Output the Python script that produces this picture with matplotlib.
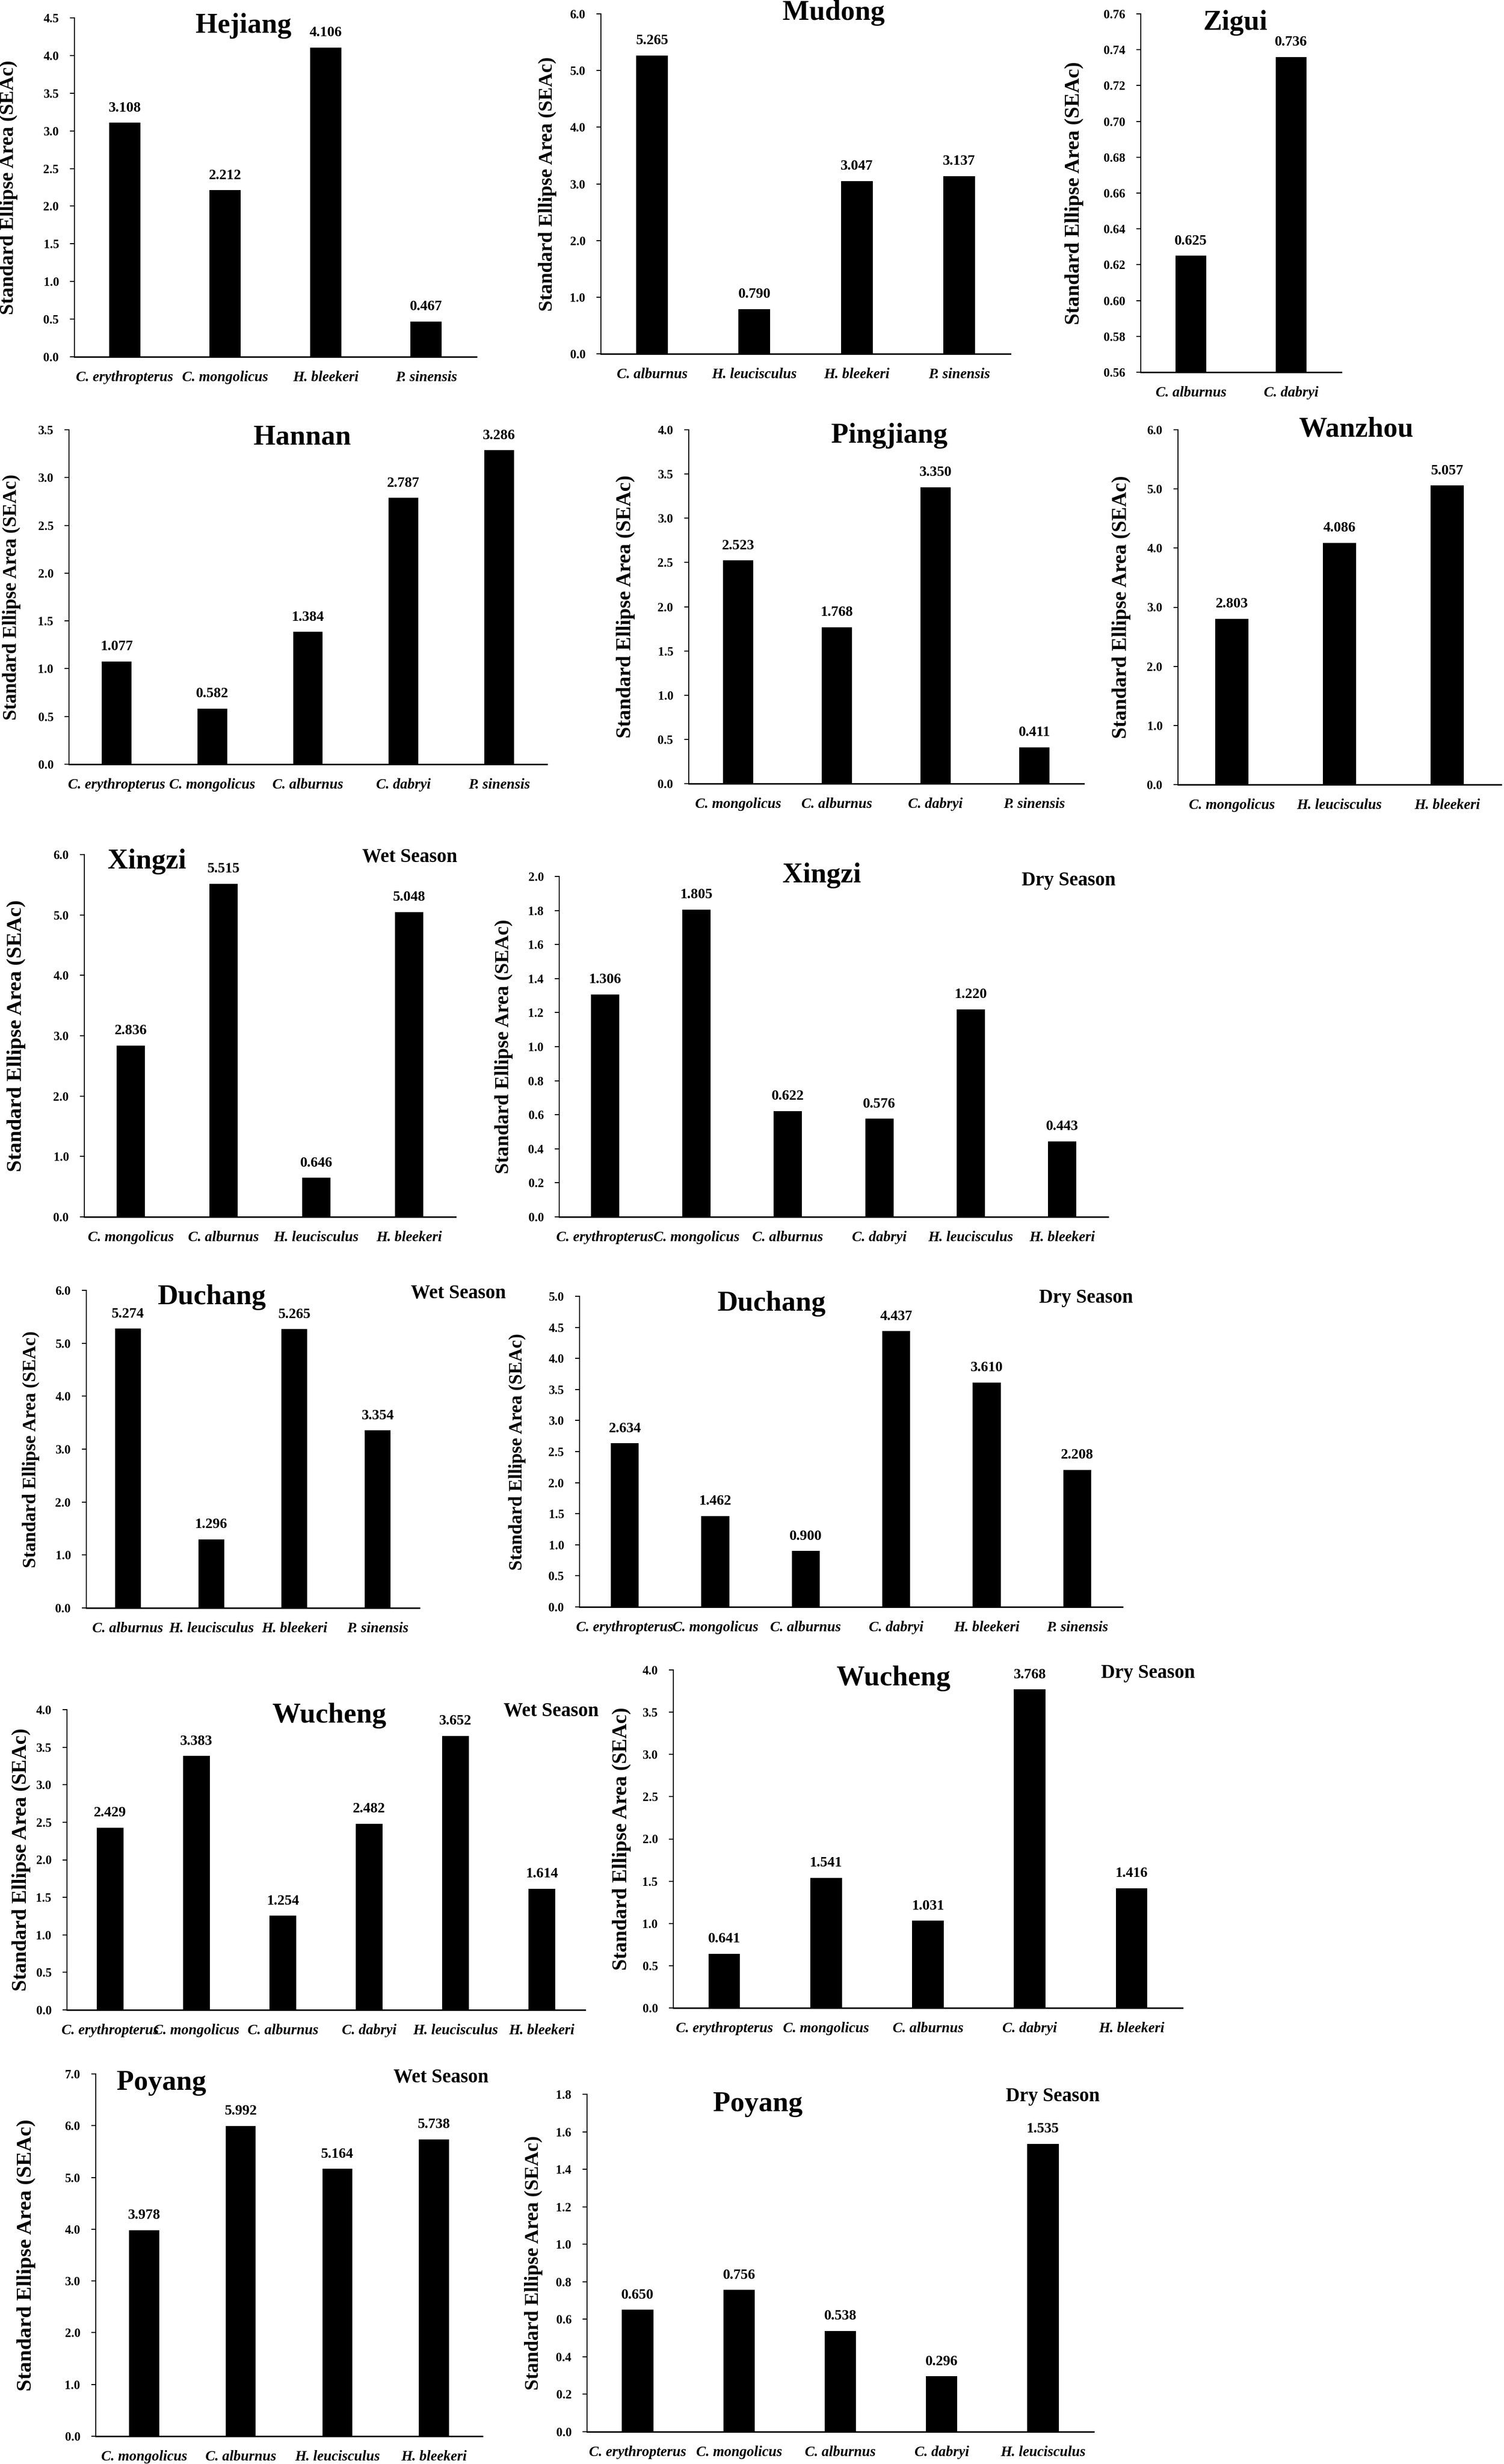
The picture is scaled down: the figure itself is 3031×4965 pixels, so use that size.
import numpy as np
import matplotlib
matplotlib.use("Agg")
import matplotlib.pyplot as plt

plt.rcParams['font.family'] = ['Liberation Serif', 'DejaVu Serif']
plt.rcParams['font.weight'] = 'bold'

# ---- data ----
hejiang_cats = ['C. erythropterus', 'C. mongolicus', 'H. bleekeri', 'P. sinensis']
hejiang_vals = [3.108, 2.212, 4.106, 0.467]

mudong_cats = ['C. alburnus', 'H. leucisculus', 'H. bleekeri', 'P. sinensis']
mudong_vals = [5.265, 0.790, 3.047, 3.137]

zigui_cats = ['C. alburnus', 'C. dabryi']
zigui_vals = [0.625, 0.736]

hannan_cats = ['C. erythropterus', 'C. mongolicus', 'C. alburnus', 'C. dabryi', 'P. sinensis']
hannan_vals = [1.077, 0.582, 1.384, 2.787, 3.286]

pingjiang_cats = ['C. mongolicus', 'C. alburnus', 'C. dabryi', 'P. sinensis']
pingjiang_vals = [2.523, 1.768, 3.350, 0.411]

wanzhou_cats = ['C. mongolicus', 'H. leucisculus', 'H. bleekeri']
wanzhou_vals = [2.803, 4.086, 5.057]

xingzi_wet_cats = ['C. mongolicus', 'C. alburnus', 'H. leucisculus', 'H. bleekeri']
xingzi_wet_vals = [2.836, 5.515, 0.646, 5.048]

xingzi_dry_cats = ['C. erythropterus', 'C. mongolicus', 'C. alburnus', 'C. dabryi',
                   'H. leucisculus', 'H. bleekeri']
xingzi_dry_vals = [1.306, 1.805, 0.622, 0.576, 1.220, 0.443]

duchang_wet_cats = ['C. alburnus', 'H. leucisculus', 'H. bleekeri', 'P. sinensis']
duchang_wet_vals = [5.274, 1.296, 5.265, 3.354]

duchang_dry_cats = ['C. erythropterus', 'C. mongolicus', 'C. alburnus', 'C. dabryi',
                    'H. bleekeri', 'P. sinensis']
duchang_dry_vals = [2.634, 1.462, 0.900, 4.437, 3.610, 2.208]

wucheng_wet_cats = ['C. erythropterus', 'C. mongolicus', 'C. alburnus', 'C. dabryi',
                    'H. leucisculus', 'H. bleekeri']
wucheng_wet_vals = [2.429, 3.383, 1.254, 2.482, 3.652, 1.614]

wucheng_dry_cats = ['C. erythropterus', 'C. mongolicus', 'C. alburnus', 'C. dabryi', 'H. bleekeri']
wucheng_dry_vals = [0.641, 1.541, 1.031, 3.768, 1.416]

poyang_wet_cats = ['C. mongolicus', 'C. alburnus', 'H. leucisculus', 'H. bleekeri']
poyang_wet_vals = [3.978, 5.992, 5.164, 5.738]

poyang_dry_cats = ['C. erythropterus', 'C. mongolicus', 'C. alburnus', 'C. dabryi', 'H. leucisculus']
poyang_dry_vals = [0.650, 0.756, 0.538, 0.296, 1.535]

ylabel = 'Standard Ellipse Area (SEAc)'

W, H = 3031, 4965
fig = plt.figure(figsize=(W / 100, H / 100), dpi=100)


def fx(x):
    return x / W


def fy(y):
    return 1 - y / H


def panel(cats, vals, box, yrange, title, title_xy, ylab_x, ylab_size,
          season=None, season_xy=None, fmt='%.1f'):
    l, t, r, b = box
    ax = fig.add_axes([fx(l), fy(b), (r - l) / W, (b - t) / H])
    x = np.arange(len(cats))
    ax.bar(x, vals, width=0.31, color='black')
    lo, hi, step = yrange
    ax.set_ylim(lo, hi)
    ax.set_xlim(-0.5, len(cats) - 0.5)
    ticks = np.arange(lo, hi + step / 2, step)
    ax.set_yticks(ticks)
    ax.set_yticklabels([fmt % v for v in ticks], fontsize=18, fontweight='bold')
    ax.set_xticks(x)
    ax.set_xticklabels(cats, fontsize=21, fontweight='bold', style='italic')
    ax.tick_params(axis='x', length=0, pad=20)
    ax.tick_params(axis='y', length=6.5, width=1.5, pad=16)
    for s in ['top', 'right']:
        ax.spines[s].set_visible(False)
    ax.spines['left'].set_linewidth(1.5)
    ax.spines['bottom'].set_linewidth(2.2)
    for xi, v in zip(x, vals):
        ax.annotate('%.3f' % v, (xi, v), xytext=(0, 12), textcoords='offset points',
                    ha='center', va='bottom', fontsize=21, fontweight='bold')
    fig.text(fx(title_xy[0]), fy(title_xy[1]), title, fontsize=41, fontweight='bold',
             ha='center', va='baseline')
    if season:
        fig.text(fx(season_xy[0]), fy(season_xy[1]), season, fontsize=28, fontweight='bold',
                 ha='center', va='baseline')
    fig.text(fx(ylab_x), fy((t + b) / 2), ylabel, rotation=90, fontsize=ylab_size,
             fontweight='bold', ha='center', va='center')
    return ax


# row 1
panel(hejiang_cats, hejiang_vals, (150, 36, 960, 719), (0, 4.5, 0.5),
      'Hejiang', (491, 66), 18, 29)
panel(mudong_cats, mudong_vals, (1211, 28, 2036, 713), (0, 6.0, 1.0),
      'Mudong', (1680, 40), 1104, 29)
panel(zigui_cats, zigui_vals, (2299, 28, 2703, 750), (0.56, 0.76, 0.02),
      'Zigui', (2489, 60), 2165, 30, fmt='%.2f')

# row 2
panel(hannan_cats, hannan_vals, (139, 866, 1102, 1540), (0, 3.5, 0.5),
      'Hannan', (609, 895), 24, 28)
panel(pingjiang_cats, pingjiang_vals, (1388, 866, 2184, 1579), (0, 4.0, 0.5),
      'Pingjiang', (1792, 892), 1261, 30)
panel(wanzhou_cats, wanzhou_vals, (2374, 866, 3025, 1581), (0, 6.0, 1.0),
      'Wanzhou', (2733, 879), 2260, 30)

# row 3
panel(xingzi_wet_cats, xingzi_wet_vals, (170, 1722, 918, 2452), (0, 6.0, 1.0),
      'Xingzi', (296, 1750), 33, 31, 'Wet Season', (826, 1737))
panel(xingzi_dry_cats, xingzi_dry_vals, (1127, 1766, 2233, 2452), (0, 2.0, 0.2),
      'Xingzi', (1656, 1778), 1015, 29, 'Dry Season', (2154, 1784))

# row 4
panel(duchang_wet_cats, duchang_wet_vals, (174, 2600, 845, 3240), (0, 6.0, 1.0),
      'Duchang', (427, 2628), 62, 27, 'Wet Season', (924, 2616))
panel(duchang_dry_cats, duchang_dry_vals, (1168, 2612, 2262, 3238), (0, 5.0, 0.5),
      'Duchang', (1555, 2641), 1042, 27, 'Dry Season', (2189, 2625))

# row 5
panel(wucheng_wet_cats, wucheng_wet_vals, (135, 3445, 1179, 4050), (0, 4.0, 0.5),
      'Wucheng', (663, 3471), 43, 30, 'Wet Season', (1111, 3458))
panel(wucheng_dry_cats, wucheng_dry_vals, (1357, 3365, 2383, 4046), (0, 4.0, 0.5),
      'Wucheng', (1800, 3396), 1253, 30, 'Dry Season', (2314, 3381))

# row 6
panel(poyang_wet_cats, poyang_wet_vals, (193, 4179, 972, 4909), (0, 7.0, 1.0),
      'Poyang', (325, 4211), 53, 31, 'Wet Season', (889, 4196))
panel(poyang_dry_cats, poyang_dry_vals, (1183, 4220, 2204, 4900), (0, 1.8, 0.2),
      'Poyang', (1527, 4254), 1075, 29, 'Dry Season', (2122, 4234))

fig.savefig('out.png', dpi=100, facecolor='white')
